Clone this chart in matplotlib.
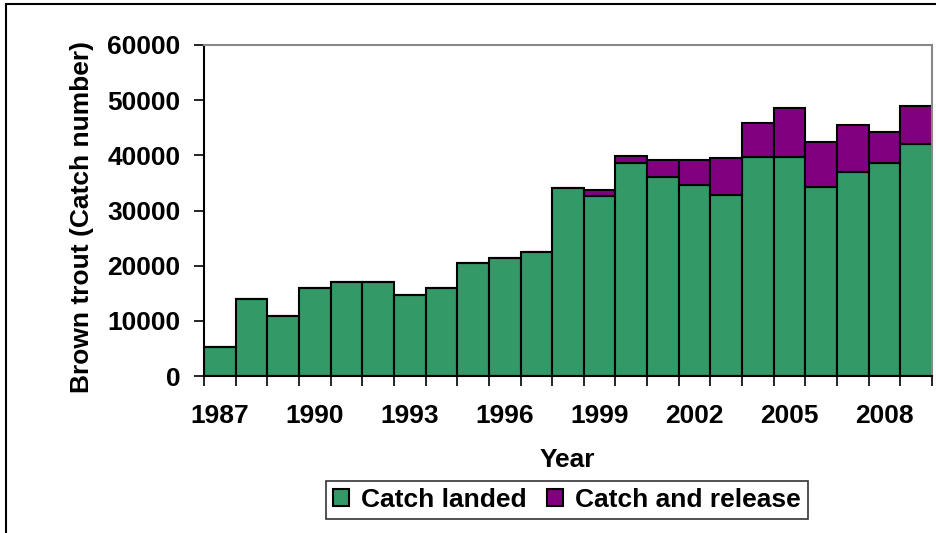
import matplotlib
matplotlib.use("Agg")
from matplotlib import pyplot as plt
from matplotlib.patches import Rectangle
import numpy as np

years = list(range(1987, 2010))
landed = [5300, 13900, 10900, 16000, 17000, 17000, 14600, 16000, 20400, 21400, 22500,
          34000, 32600, 38700, 36000, 34700, 32900, 39700, 39700, 34300, 37000, 38700, 42100]
total = [5300, 13900, 10900, 16000, 17000, 17000, 14600, 16000, 20400, 21400, 22500,
         34000, 33700, 39800, 39100, 39100, 39500, 45900, 48600, 42400, 45500, 44200, 48900]
released = [t - l for t, l in zip(total, landed)]
tick_years = [1987, 1990, 1993, 1996, 1999, 2002, 2005, 2008]

green = "#339966"
purple = "#800080"
fs = 19

plt.rcParams["font.family"] = ["Liberation Sans", "DejaVu Sans"]
plt.rcParams["font.weight"] = "bold"

fig = plt.figure(figsize=(9.37, 5.33), dpi=100)
ax = fig.add_axes([204 / 937, 1 - 376 / 533, 728 / 937, 331 / 533])

x = np.arange(len(years))
ax.bar(x, landed, width=1.0, color=green, edgecolor="black", linewidth=1.5,
       label="Catch landed")
ax.bar(x, released, width=1.0, bottom=landed, color=purple, edgecolor="black",
       linewidth=1.5, label="Catch and release")

ax.set_xlim(-0.5, len(years) - 0.5)
ax.set_ylim(0, 60000)
ax.set_yticks(range(0, 60001, 10000))
ax.tick_params(axis="y", direction="out", length=7, width=1.2, labelsize=fs, pad=10)

# labels at bar centres, tick marks at bar boundaries
ax.set_xticks([years.index(y) for y in tick_years])
ax.set_xticklabels([str(y) for y in tick_years])
ax.tick_params(axis="x", which="major", length=0, labelsize=fs, pad=20)
ax.set_xticks(np.arange(-0.5, len(years), 1.0), minor=True)
ax.tick_params(axis="x", which="minor", direction="out", length=7, width=1.2)

for lab in ax.get_xticklabels() + ax.get_yticklabels():
    lab.set_fontweight("bold")

ax.spines["left"].set_linewidth(1.5)
ax.spines["bottom"].set_linewidth(1.5)
ax.spines["top"].set_color("#888888")
ax.spines["right"].set_color("#888888")
ax.spines["top"].set_linewidth(1.5)
ax.spines["right"].set_linewidth(1.5)

fig.text(567 / 937, 1 - 460 / 533, "Year", fontsize=fs, fontweight="bold",
         ha="center", va="center")
fig.text(82 / 937, 1 - 217 / 533, "Brown trout (Catch number)", rotation=90,
         fontsize=fs, fontweight="bold", ha="center", va="center")

leg = fig.legend(loc="center", bbox_to_anchor=(567 / 937, 1 - 500 / 533), ncol=2,
                 fontsize=fs, frameon=True, fancybox=False, handlelength=0.6,
                 handleheight=0.6, handletextpad=0.45, columnspacing=0.8,
                 borderpad=0.25, borderaxespad=0)
leg.get_frame().set_edgecolor("black")
leg.get_frame().set_linewidth(1.2)
for t in leg.get_texts():
    t.set_fontweight("bold")

fig.patches.append(Rectangle((6 / 937, -0.1), 1.2, 1.1 - 4 / 533, fill=False,
                             edgecolor="black", linewidth=1.5,
                             transform=fig.transFigure, clip_on=False))

fig.savefig("out.png", dpi=100)
